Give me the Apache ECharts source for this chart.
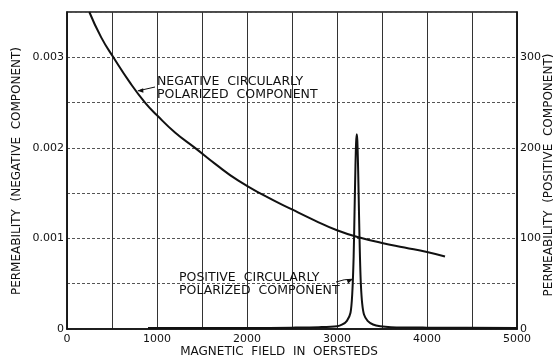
<!DOCTYPE html>
<html><head><meta charset="utf-8">
<script src="https://cdn.jsdelivr.net/npm/echarts@6/dist/echarts.min.js"></script>
<style>html,body{margin:0;padding:0;background:#fff}#c{width:559px;height:360px}</style>
</head><body><div id="c"></div>
<script>
// Negative circularly polarized component: [field (Oe), permeability]
const negField = [248, 380, 515, 700, 867, 1000, 1200, 1422, 1650, 1900, 2200, 2500, 2750, 3000, 3250, 3500, 3750, 4000, 4200];
const negPerm  = [0.0035, 0.00322, 0.0030, 0.00272, 0.0025, 0.00236, 0.00217, 0.0020, 0.00182, 0.00164, 0.00147, 0.00132, 0.0012, 0.00109, 0.00101, 0.00095, 0.0009, 0.00085, 0.0008];
// Positive circularly polarized component: [field (Oe), permeability]
const posField = [900, 1500, 2000, 2500, 2800, 3000, 3060, 3110, 3150, 3170, 3185, 3195, 3205, 3212, 3219, 3226, 3235, 3245, 3255, 3265, 3280, 3300, 3340, 3400, 3480, 3600, 4000, 5000];
const posPerm  = [1, 1, 1, 1.5, 2, 3, 5, 9, 18, 40, 80, 130, 180, 205, 215, 208, 175, 125, 80, 50, 28, 16, 9, 5, 3, 2, 1.5, 1];
const xTicks = [0, 1000, 2000, 3000, 4000, 5000];
const leftTicks = [0, 0.001, 0.002, 0.003];
const rightTicks = [0, 100, 200, 300];

const FONT = '"DejaVu Sans", Verdana, sans-serif';
const chart = echarts.init(document.getElementById('c'));
const neg = negField.map((f, i) => [f, negPerm[i]]);
const pos = posField.map((f, i) => [f, posPerm[i]]);
const lbl = {color: '#111', fontFamily: FONT, fontSize: 11};
chart.setOption({
  backgroundColor: '#fff',
  animation: false,
  grid: {left: 67, right: 42, top: 12, bottom: 31, show: true, borderColor: '#111', borderWidth: 1.5, containLabel: false, outerBoundsMode: 'none'},
  xAxis: {
    type: 'value', min: 0, max: 5000, interval: 500,
    axisLine: {lineStyle: {color: '#111', width: 1.5}},
    axisTick: {show: false},
    axisLabel: Object.assign({}, lbl, {margin: 5, formatter: v => xTicks.includes(v) ? String(v) : ''}),
    splitLine: {show: true, lineStyle: {color: '#333', width: 1, type: 'solid'}}
  },
  yAxis: [{
    type: 'value', min: 0, max: 0.0035, interval: 0.0005,
    axisLine: {show: true, lineStyle: {color: '#111', width: 1.5}},
    axisTick: {show: false},
    axisLabel: Object.assign({}, lbl, {margin: 3, formatter: v => leftTicks.some(t => Math.abs(t - v) < 1e-9) ? (v === 0 ? '0' : v.toFixed(3)) : ''}),
    splitLine: {show: true, lineStyle: {color: '#555', width: 1, type: [3, 2]}}
  }, {
    type: 'value', min: 0, max: 350, interval: 50, position: 'right',
    axisLine: {show: true, lineStyle: {color: '#111', width: 1.5}},
    axisTick: {show: false},
    axisLabel: Object.assign({}, lbl, {margin: 3, formatter: v => rightTicks.includes(v) ? String(v) : ''}),
    splitLine: {show: false}
  }],
  series: [{
    type: 'line', yAxisIndex: 0, data: neg, smooth: 0.5, symbol: 'none',
    lineStyle: {color: '#111', width: 2}
  }, {
    type: 'line', yAxisIndex: 1, data: pos, smooth: 0.3, symbol: 'none',
    lineStyle: {color: '#111', width: 2}
  }]
});

const head = (x, y, dx, dy) => {
  const len = Math.hypot(dx, dy), ux = dx / len, uy = dy / len, s = 6, w = 2.2;
  return {type: 'polygon', shape: {points: [[x, y], [x - ux * s - uy * w, y - uy * s + ux * w], [x - ux * s + uy * w, y - uy * s - ux * w]]}, style: {fill: '#111'}};
};
const pN = chart.convertToPixel({xAxisIndex: 0, yAxisIndex: 0}, [770, 0.00263]);
const pP = chart.convertToPixel({xAxisIndex: 0, yAxisIndex: 1}, [3188, 55]);
const txt = (x, y, t) => ({type: 'text', x, y, style: {text: t, fill: '#111', font: '12.5px ' + FONT, lineHeight: 13}});
const name = (x, y, t, rot, size) => ({type: 'text', x, y, rotation: rot, style: {text: t, fill: '#111', font: size + 'px ' + FONT, align: 'center', verticalAlign: 'middle'}});
chart.setOption({graphic: [
  txt(157, 75, 'NEGATIVE  CIRCULARLY\nPOLARIZED  COMPONENT'),
  {type: 'line', shape: {x1: 155, y1: 87, x2: pN[0] + 2, y2: pN[1]}, style: {stroke: '#111', lineWidth: 1}},
  head(pN[0] + 1, pN[1], -1, 0.05),
  txt(179, 271.5, 'POSITIVE  CIRCULARLY\nPOLARIZED  COMPONENT'),
  {type: 'bezierCurve', shape: {x1: 336, y1: 282, x2: pP[0] - 1, y2: pP[1], cpx1: 344, cpy1: 279}, style: {stroke: '#111', lineWidth: 1, fill: null}},
  head(pP[0] - 1, pP[1], 1, -0.4),
  name(279, 352, 'MAGNETIC  FIELD  IN  OERSTEDS', 0, 12),
  name(17, 171, 'PERMEABILITY  (NEGATIVE  COMPONENT)', Math.PI / 2, 12),
  name(549, 175, 'PERMEABILITY  (POSITIVE  COMPONENT)', Math.PI / 2, 12)
]});
</script></body></html>
